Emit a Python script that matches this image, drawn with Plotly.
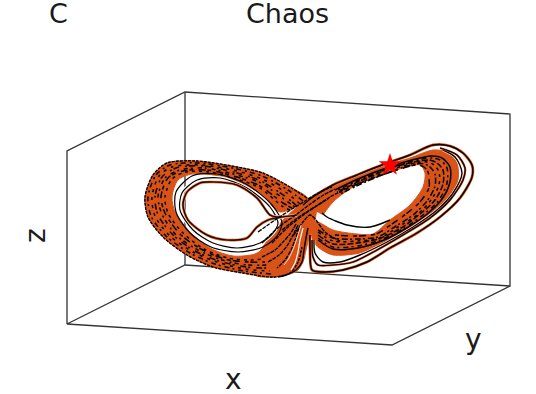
import plotly.graph_objects as go

ORANGE = "#D95319"
BLACK = "#000000"
BOX = "#333333"
WHITE = "#FFFFFF"

# box edges, read in projected chart units
box_x = [67, 67, 185, 510, 510, 392, 67, 185, 510, None, 185, 185]
box_y = [324, 151, 92, 114, 286, 345, 324, 265, 286, None, 92, 265]

# left wing
L_outer_x = [307, 290, 263, 237, 197, 167, 153, 145, 148, 163, 187, 213, 243, 273, 290, 298, 302]
L_outer_y = [198, 187, 173, 167, 161, 163, 175, 197, 217, 237, 255, 267, 273, 277, 273, 262, 247]
L_inner_x = [270, 255, 233, 210, 190, 175, 172, 178, 192, 213, 237, 260, 280, 307]
L_inner_y = [245, 254, 256, 248, 232, 212, 197, 180, 174, 175, 183, 193, 212, 198]
T12_x = [303, 288, 262, 237, 199, 170, 156, 148, 151, 166, 190, 215, 244, 272]
T12_y = [201, 190, 176, 169, 163, 165, 175, 197, 216, 236, 253, 264, 271, 274]
T25_x = [300, 287, 262, 237, 201, 172, 159, 152, 155, 170, 193, 217, 245, 270]
T25_y = [204, 193, 179, 171, 165, 167, 176, 197, 216, 236, 252, 262, 269, 271]
T37_x = [297, 286, 261, 237, 203, 176, 162, 155, 158, 173, 195, 219, 246, 269]
T37_y = [206, 197, 181, 173, 166, 168, 177, 197, 215, 235, 251, 261, 267, 268]
T50_x = [295, 285, 261, 237, 205, 180, 165, 158, 162, 176, 198, 222, 247, 267]
T50_y = [207, 200, 183, 175, 168, 170, 178, 197, 214, 235, 250, 260, 265, 265]
T62_x = [292, 283, 260, 237, 207, 183, 168, 161, 165, 180, 201, 225, 248, 265]
T62_y = [208, 203, 186, 177, 170, 171, 178, 197, 213, 234, 249, 259, 262, 262]
T75_x = [290, 282, 260, 237, 209, 186, 172, 165, 168, 183, 204, 228, 250, 263]
T75_y = [210, 206, 188, 179, 172, 172, 179, 197, 213, 233, 249, 258, 260, 259]
I1_x = [297, 277, 270, 257, 237, 213, 200, 187, 183, 188, 207, 227, 247, 257, 268, 283]
I1_y = [215, 217, 215, 198, 185, 182, 183, 192, 205, 220, 235, 240, 238, 227, 220, 217]
I2_x = [182, 197, 220, 247, 270, 278, 273, 260, 237, 213, 193, 180, 182]
I2_y = [193, 180, 178, 188, 207, 223, 233, 243, 248, 243, 230, 210, 193]
I3_x = [176, 192, 217, 246, 272, 282, 277, 263, 238, 211, 190, 176, 176]
I3_y = [192, 176, 174, 184, 205, 223, 236, 247, 252, 247, 233, 212, 192]

# central fan
C_x = [262, 270, 283, 297, 307, 316, 314, 309, 306, 303, 298, 290, 273, 255, 255]
C_y = [248, 237, 220, 207, 198, 205, 225, 238, 250, 262, 270, 274, 277, 275, 258]
F1_x = [303, 300, 298, 295, 291]
F1_y = [228, 240, 252, 263, 270]
F2_x = [299, 295, 291, 285, 277]
F2_y = [228, 240, 250, 260, 268]
F3_x = [301, 297, 294, 289, 284]
F3_y = [225, 238, 247, 258, 265]
F4_x = [298, 292, 287, 279, 268]
F4_y = [225, 237, 246, 255, 262]
F5_x = [296, 290, 283, 275, 262]
F5_y = [224, 234, 242, 250, 257]
F6_x = [308, 306, 304, 302, 296, 286, 278]
F6_y = [228, 238, 250, 262, 270, 275, 277]
X1_x = [262, 280, 297, 309, 322, 335]
X1_y = [243, 226, 214, 205, 196, 189]
X2_x = [272, 287, 302, 315, 330, 345]
X2_y = [243, 228, 216, 207, 197, 189]
X3_x = [258, 275, 292, 305, 318, 332]
X3_y = [232, 220, 209, 201, 193, 187]
X4_x = [282, 296, 308, 318, 328]
X4_y = [230, 219, 211, 205, 199]
X5_x = [293, 303, 310, 316, 325, 340]
X5_y = [236, 222, 215, 220, 232, 241]

# right wing
R_out_x = [303, 313, 333, 357, 387, 410, 433, 447, 457, 458, 450, 433, 410, 387, 360, 333, 322, 314, 311, 310]
R_out_y = [205, 198, 187, 177, 165, 158, 150, 152, 163, 180, 198, 215, 230, 242, 253, 255, 250, 243, 232, 222]
R_in_x = [318, 333, 357, 373, 390, 410, 423, 425, 420, 403, 377, 353, 333, 323]
R_in_y = [222, 230, 234, 234, 220, 205, 187, 173, 165, 168, 177, 187, 202, 215]
RA_x = [310, 310, 312, 323, 343, 367, 390, 417, 440, 460, 472, 472, 463, 450, 433, 410, 387, 357, 333, 313, 303]
RA_y = [235, 250, 270, 272, 270, 262, 248, 233, 217, 198, 177, 165, 153, 146, 145, 155, 163, 175, 185, 197, 205]
RB_x = [312, 313, 318, 333, 353, 377, 403, 430, 450, 463, 465, 457, 440]
RB_y = [240, 257, 265, 265, 262, 250, 235, 218, 200, 180, 168, 155, 148]
RC_x = [314, 315, 323, 340, 360, 387, 413, 437, 453, 462, 455, 443]
RC_y = [240, 253, 262, 262, 255, 242, 227, 210, 193, 173, 157, 150]
RI_x = [322, 327, 347, 370, 390]
RI_y = [213, 217, 225, 227, 220]
U1_x = [318, 333, 358, 384, 405, 426, 442, 450, 450, 442, 431, 412, 389, 358, 335]
U1_y = [240, 249, 248, 240, 229, 215, 199, 182, 167, 158, 156, 160, 167, 179, 190]
U2_x = [318, 333, 358, 381, 401, 420, 435, 443, 443, 437, 429, 414, 391, 360, 337]
U2_y = [235, 244, 243, 238, 228, 214, 200, 184, 170, 163, 160, 162, 168, 181, 192]
U3_x = [318, 333, 358, 378, 396, 413, 427, 435, 435, 431, 425, 416, 395, 363, 340]
U3_y = [230, 238, 239, 237, 226, 215, 201, 186, 174, 168, 164, 164, 170, 183, 194]
U4_x = [335, 358, 376, 392, 406, 420, 429, 429, 428, 424, 417, 397, 368, 345]
U4_y = [235, 236, 234, 224, 214, 202, 188, 178, 172, 167, 165, 170, 180, 189]
U5_x = [318, 333, 358, 383, 403, 423, 439, 447, 447, 440, 430, 413, 390, 359, 336]
U5_y = [238, 247, 246, 239, 229, 215, 200, 183, 168, 160, 158, 161, 168, 180, 191]
U6_x = [318, 333, 358, 380, 398, 417, 431, 439, 439, 434, 427, 415, 393, 362, 338]
U6_y = [232, 241, 241, 238, 227, 215, 200, 185, 172, 165, 162, 163, 169, 182, 193]

star_x = [390]
star_y = [165]

labels = ["C", "Chaos", "x", "y", "z"]
label_x = [58, 287, 233, 473, 35]
label_y = [13, 13, 379, 339, 236]
label_angle = [0, 0, 0, 0, -90]
label_size = [27, 27, 28, 28, 28]
label_box = [26, 26, 28, 36, 28]

fig = go.Figure()


def fill(xs, ys):
    fig.add_trace(go.Scatter(x=xs, y=ys, mode="lines", fill="toself", fillcolor=ORANGE,
                             line=dict(color=ORANGE, width=1, shape="spline", smoothing=0.8)))


def curve(xs, ys, color, width, dash="solid"):
    fig.add_trace(go.Scatter(x=xs, y=ys, mode="lines",
                             line=dict(color=color, width=width, dash=dash, shape="spline", smoothing=0.8)))


fig.add_trace(go.Scatter(x=box_x, y=box_y, mode="lines", line=dict(color=BOX, width=1.3)))

fill(L_outer_x + L_inner_x, L_outer_y + L_inner_y)
fill(R_out_x + R_in_x, R_out_y + R_in_y)
fill(C_x, C_y)

curve(L_outer_x, L_outer_y, BLACK, 1.4, "3px,1px")
for (xs, ys), d in zip([(T12_x, T12_y), (T25_x, T25_y), (T37_x, T37_y), (T50_x, T50_y), (T62_x, T62_y), (T75_x, T75_y)],
                       ["5px,3px,2px,4px", "3px,5px", "6px,2px,2px,6px", "2px,3px,4px,5px", "4px,2px,7px,5px", "3px,4px"]):
    curve(xs, ys, BLACK, 1.5, d)
curve(I3_x, I3_y, BLACK, 1.2)
curve(I2_x, I2_y, WHITE, 3.5)
curve(I2_x, I2_y, BLACK, 1.2)
curve(I1_x, I1_y, WHITE, 3)
curve(I1_x, I1_y, ORANGE, 2.6)
curve(I1_x, I1_y, BLACK, 1.2)

for (xs, ys), d in zip([(U1_x, U1_y), (U5_x, U5_y), (U2_x, U2_y), (U6_x, U6_y), (U3_x, U3_y), (U4_x, U4_y)],
                       ["solid", "5px,3px,2px,4px", "6px,2px", "3px,4px", "6px,2px,2px,3px", "4px,2px,7px,5px"]):
    curve(xs, ys, BLACK, 1.5, d)
curve(RC_x, RC_y, WHITE, 2.5)
curve(RC_x, RC_y, BLACK, 1.4)
curve(RB_x, RB_y, ORANGE, 2.2)
curve(RB_x, RB_y, BLACK, 1.2)
curve(RA_x, RA_y, ORANGE, 2.8)
curve(RA_x, RA_y, BLACK, 1.4)
curve(RI_x, RI_y, BLACK, 1.4)
for xs, ys in [(X1_x, X1_y), (X2_x, X2_y), (X3_x, X3_y), (X4_x, X4_y), (X5_x, X5_y), (F2_x, F2_y), (F4_x, F4_y), (F5_x, F5_y)]:
    curve(xs, ys, BLACK, 1.4, "4px,1px")
curve(F1_x, F1_y, WHITE, 1.2)
curve(F3_x, F3_y, WHITE, 0.8)
curve(F6_x, F6_y, BLACK, 1.4)

fig.add_trace(go.Scatter(x=star_x, y=star_y, mode="markers",
                         marker=dict(symbol="star", color="#FF0000", size=17, line=dict(width=0))))

fig.update_layout(
    width=536, height=394, margin=dict(l=0, r=0, t=0, b=0), showlegend=False,
    paper_bgcolor="white", plot_bgcolor="white",
    xaxis=dict(range=[0, 536], visible=False, fixedrange=True),
    yaxis=dict(range=[394, 0], visible=False, fixedrange=True),
    annotations=[dict(x=a, y=b, xref="x", yref="y", text=t, textangle=r, showarrow=False, height=h,
                      font=dict(family="DejaVu Sans", size=s, color="#1a1a1a"))
                 for t, a, b, r, s, h in zip(labels, label_x, label_y, label_angle, label_size, label_box)],
)
fig.write_html("out.html", config={"displayModeBar": False},
               post_script="document.body.style.margin='0';")
